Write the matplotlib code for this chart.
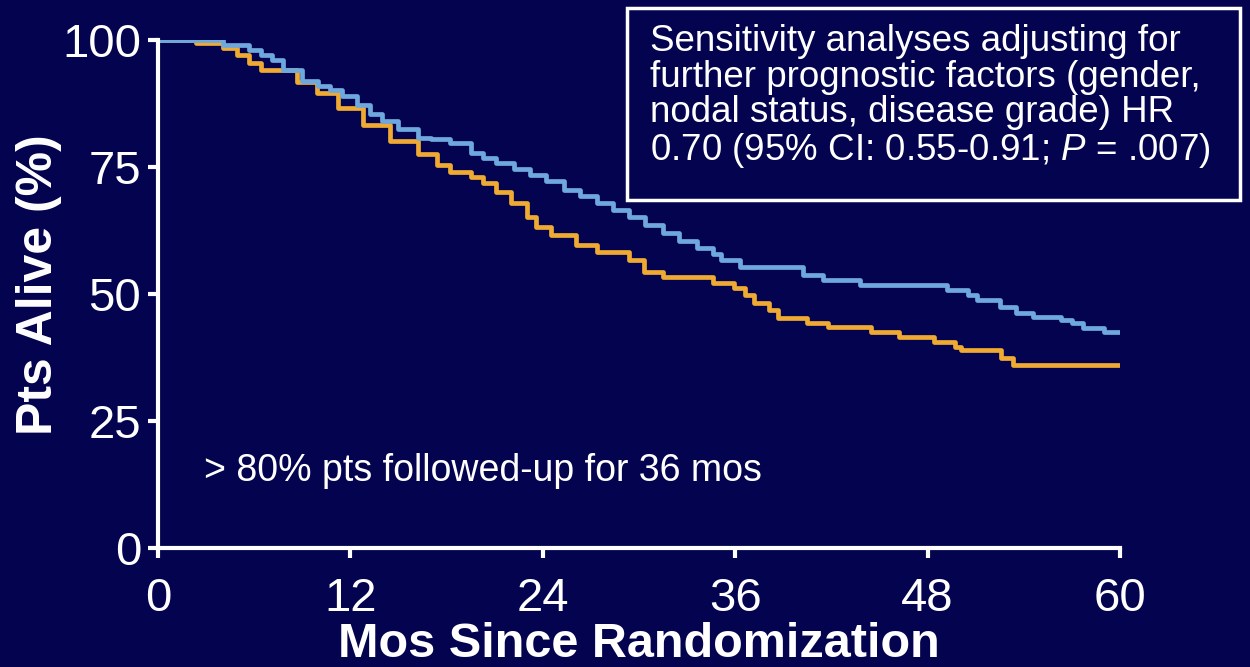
import matplotlib
matplotlib.use("Agg")
import matplotlib.pyplot as plt
from matplotlib.patches import Rectangle

plt.rcParams['font.family'] = ['Liberation Sans', 'DejaVu Sans']
plt.rcParams['mathtext.fontset'] = 'custom'
plt.rcParams['mathtext.rm'] = 'Liberation Sans'
plt.rcParams['mathtext.it'] = 'Liberation Sans:italic'

bg = '#03034f'

# Kaplan-Meier curves (months, % alive), steps drawn 'post'
blue_mos = [0, 4.05, 5.7, 6.4, 7.1, 7.8, 9.0, 10.0, 10.7, 11.5, 12.4, 13.2, 14.0, 15.0,
            16.2, 17.0, 18.2, 19.5, 20.3, 21.1, 22.2, 23.2, 24.2, 25.3, 26.3, 27.4, 28.4,
            29.4, 30.4, 31.5, 32.5, 33.6, 34.6, 35.1, 36.3, 40.2, 41.5, 43.8, 49.2, 50.5,
            51.1, 52.5, 53.5, 54.6, 56.3, 57.0, 57.7, 59.0, 60]
blue_pct = [100, 99.0, 98.0, 97.0, 96.0, 94.0, 92.0, 91.0, 90.2, 89.0, 87.2, 85.5, 84.0,
            82.5, 80.8, 80.5, 79.7, 77.8, 76.8, 75.8, 74.6, 73.4, 72.2, 70.5, 69.2, 67.9,
            66.5, 65.2, 63.6, 62.0, 60.5, 59.0, 57.8, 56.7, 55.3, 53.7, 52.8, 51.8, 50.8,
            49.8, 48.8, 47.4, 46.3, 45.5, 44.9, 44.3, 43.3, 42.6, 42.6]

orange_mos = [0, 2.4, 4.05, 4.9, 5.7, 6.4, 8.7, 9.9, 11.2, 12.8, 14.5, 16.2, 17.4, 18.2,
              19.5, 20.3, 21.1, 22.0, 23.0, 23.6, 24.5, 26.1, 27.4, 29.4, 30.3, 31.5, 34.6,
              35.9, 36.6, 37.2, 38.1, 38.7, 40.5, 41.8, 44.5, 46.2, 48.4, 49.7, 50.1, 52.6,
              53.3, 60]
orange_pct = [100, 99.4, 98.4, 97.0, 95.5, 94.1, 91.7, 89.6, 86.6, 83.3, 80.1, 77.5, 75.4,
              74.0, 73.0, 71.9, 70.1, 67.9, 65.2, 63.2, 61.6, 59.6, 58.3, 56.7, 54.3, 53.3,
              52.2, 51.2, 49.8, 48.2, 46.9, 45.3, 44.3, 43.5, 42.5, 41.5, 40.6, 39.6, 39.0,
              37.4, 36.0, 36.0]

xticks = [0, 12, 24, 36, 48, 60]
yticks = [0, 25, 50, 75, 100]

box_lines = ["Sensitivity analyses adjusting for",
             "further prognostic factors (gender,",
             "nodal status, disease grade) HR",
             "0.70 (95% CI: 0.55-0.91; $\\mathit{P}$ = .007)"]
note = "> 80% pts followed-up for 36 mos"

fig = plt.figure(figsize=(12.5, 6.67), dpi=100, facecolor=bg)
ax = fig.add_axes([0.1264, 0.1784, 0.7696, 0.7616])
ax.set_facecolor(bg)

ax.step(orange_mos, orange_pct, where='post', color='#eeaa33', lw=3.4, zorder=3)
ax.step(blue_mos, blue_pct, where='post', color='#6fa8dd', lw=3.4, zorder=3)

ax.set_xlim(0, 60)
ax.set_ylim(0, 100)
ax.set_xticks(xticks)
ax.set_yticks(yticks)
for s in ['top', 'right']:
    ax.spines[s].set_visible(False)
for s in ['left', 'bottom']:
    ax.spines[s].set_color('white')
    ax.spines[s].set_linewidth(3)
    ax.spines[s].set_zorder(4)
ax.tick_params(colors='white', width=3, length=7, labelsize=34)
ax.tick_params(axis='x', pad=14)
ax.tick_params(axis='y', pad=5)

fig.text(0.511, 0.015, 'Mos Since Randomization', color='white', fontsize=35,
         fontweight='bold', ha='center', va='baseline')
fig.text(0.031, 1 - 285 / 667, 'Pts Alive (%)', color='white', fontsize=36,
         fontweight='bold', ha='center', va='center', rotation=90)

ax.text(2.9, 15.2, note, color='white', fontsize=27, va='center')

fig.patches.append(Rectangle((0.5016, 0.7001), 0.4904, 0.2879, transform=fig.transFigure,
                             fill=False, edgecolor='white', lw=2.5))
fig.text(0.52, 0.964, "\n".join(box_lines), color='white', fontsize=26.5,
         va='top', ha='left', linespacing=1.02)

fig.savefig('out.png', dpi=100, facecolor=bg)
